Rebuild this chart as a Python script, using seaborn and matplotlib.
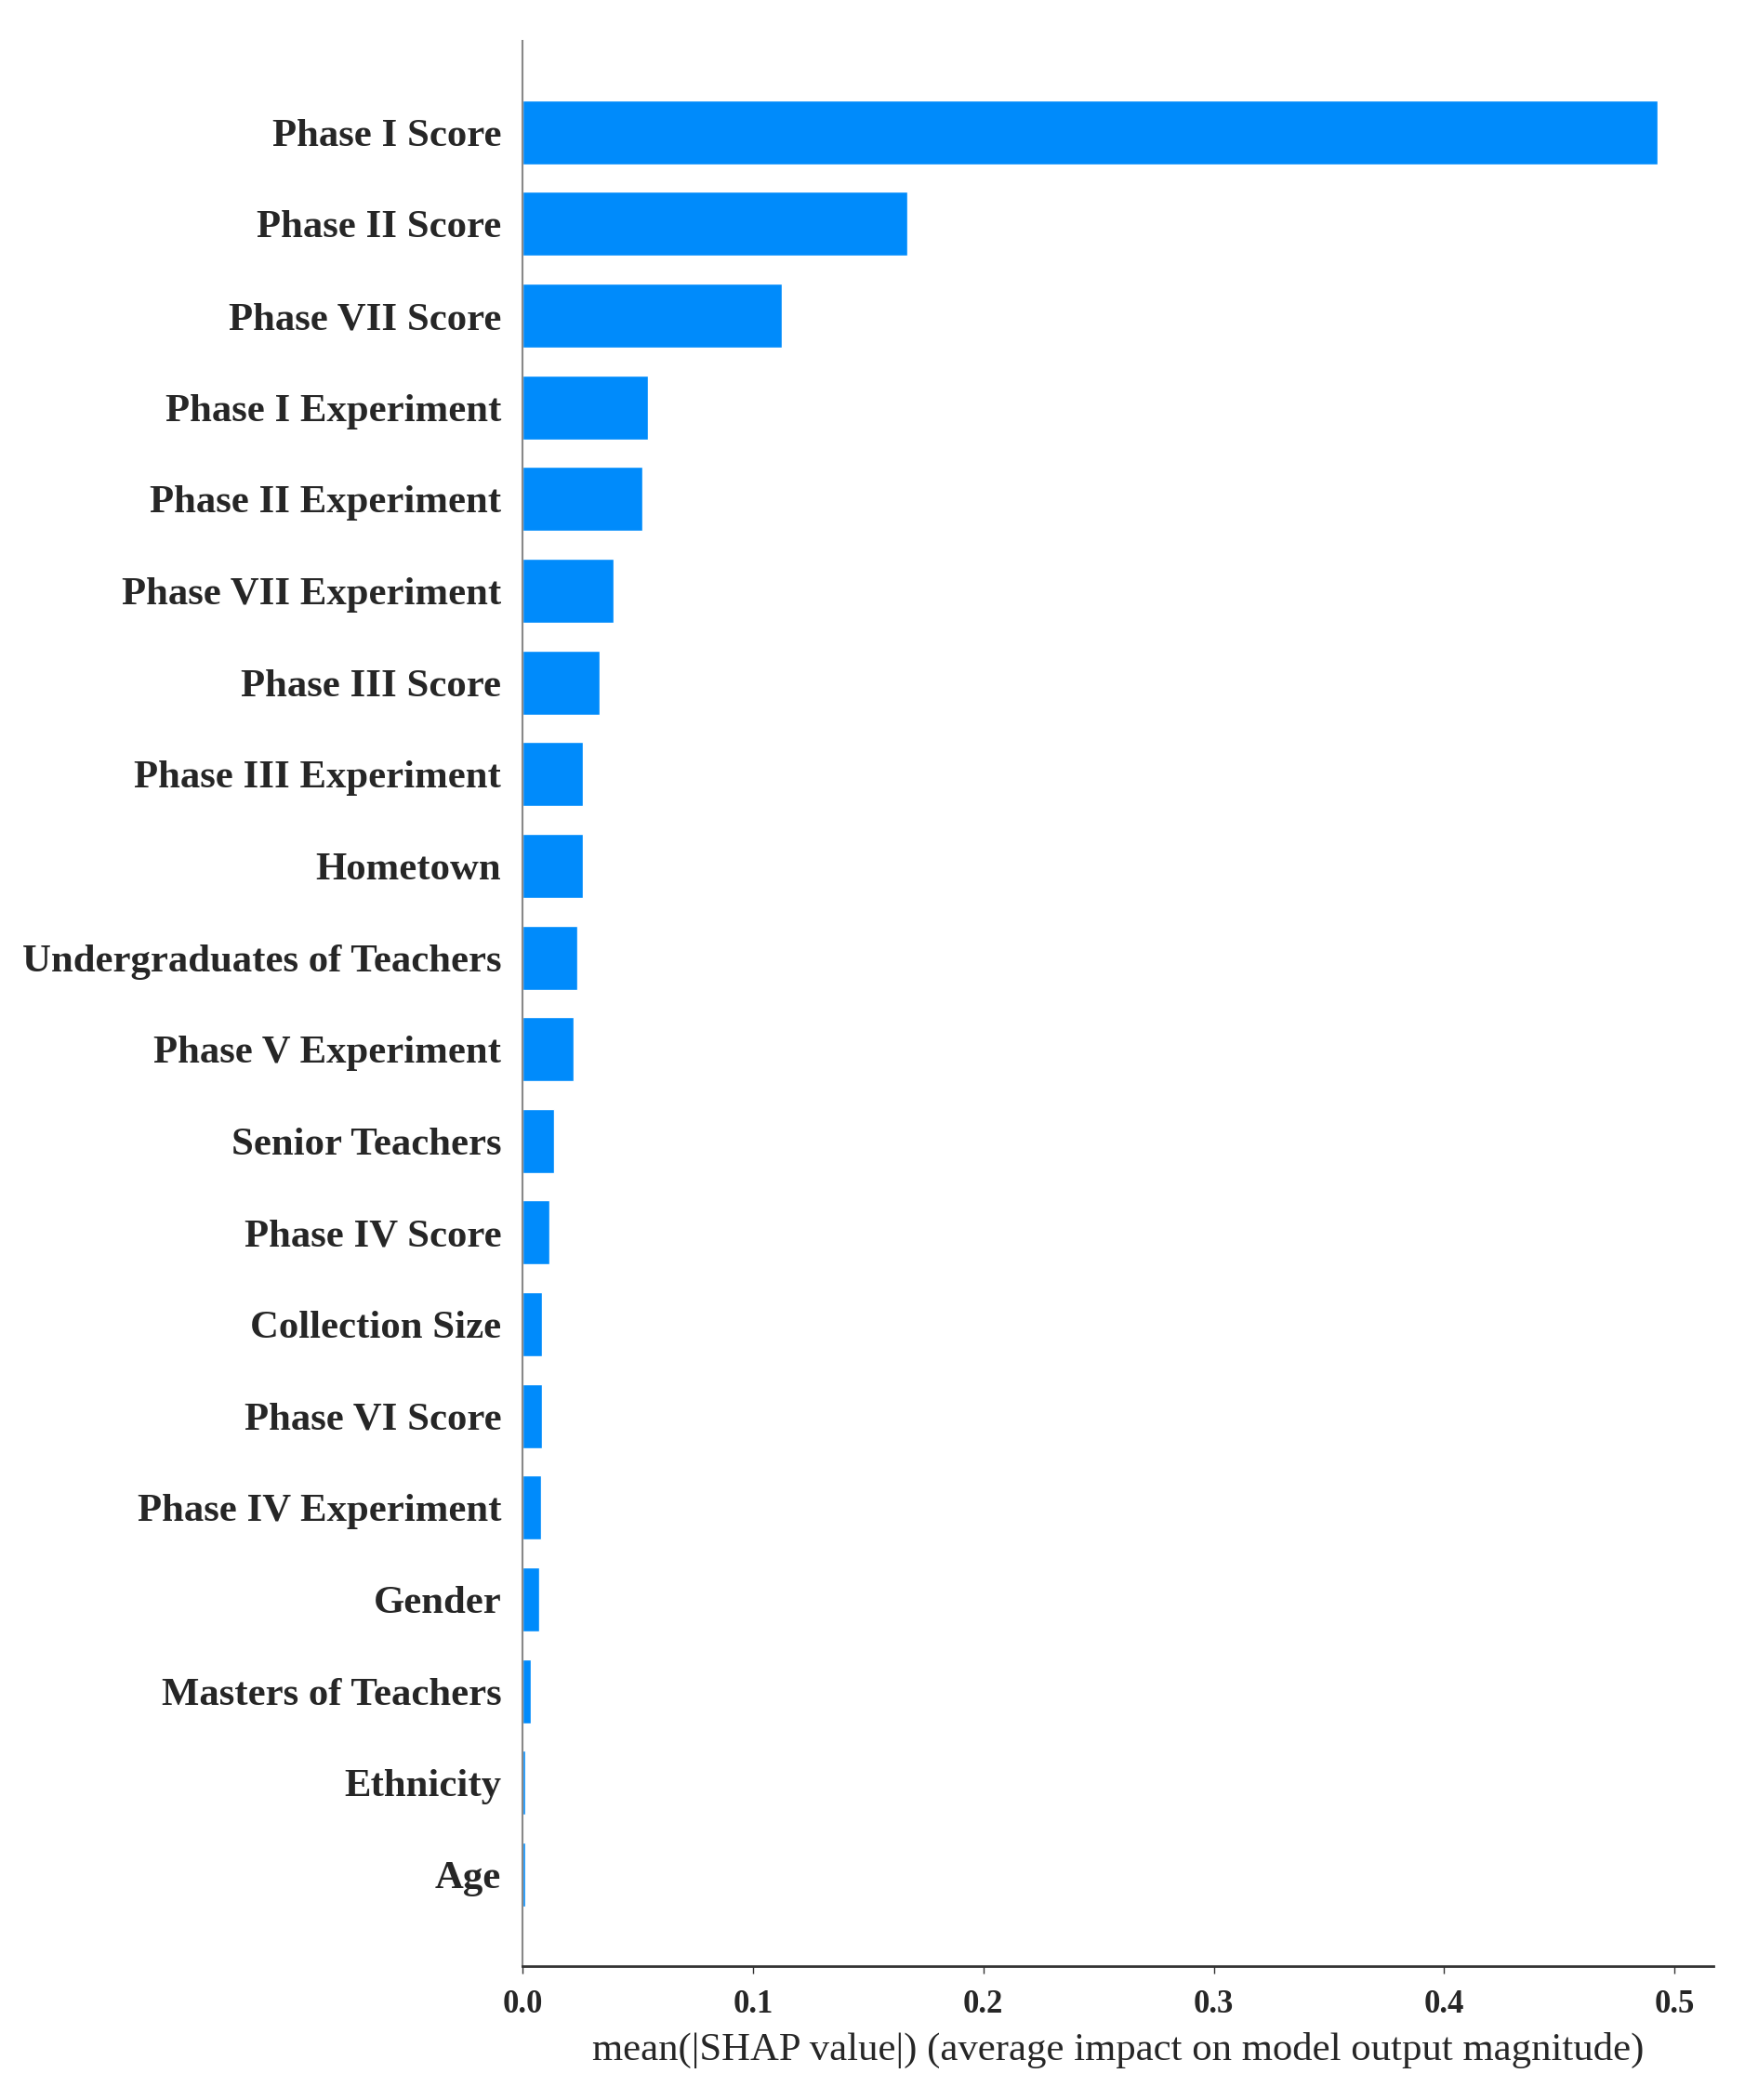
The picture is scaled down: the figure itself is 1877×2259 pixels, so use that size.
import pandas as pd
import matplotlib.pyplot as plt
import seaborn as sns

# feature importance values (mean |SHAP|)
features = [
    "Phase I Score", "Phase II Score", "Phase VII Score", "Phase I Experiment",
    "Phase II Experiment", "Phase VII Experiment", "Phase III Score",
    "Phase III Experiment", "Hometown", "Undergraduates of Teachers",
    "Phase V Experiment", "Senior Teachers", "Phase IV Score", "Collection Size",
    "Phase VI Score", "Phase IV Experiment", "Gender", "Masters of Teachers",
    "Ethnicity", "Age",
]
shap_values = [
    0.4925, 0.167, 0.1125, 0.0545, 0.052, 0.0394, 0.0336, 0.0262, 0.026,
    0.0238, 0.022, 0.0137, 0.0117, 0.0086, 0.0086, 0.0082, 0.0071, 0.0036,
    0.0012, 0.0010,
]
xticks = [0.0, 0.1, 0.2, 0.3, 0.4, 0.5]

df = pd.DataFrame({"feature": features, "value": shap_values})

sns.set_style("white")
plt.rcParams['font.family'] = ['Liberation Serif', 'DejaVu Serif']

fig = plt.figure(figsize=(18.77, 22.59), dpi=100)
ax = fig.add_axes([0.2995, 0.0637, 0.6825, 0.917])

sns.barplot(data=df, x="value", y="feature", order=features, orient="h",
            color="#008bfb", saturation=1, width=0.7, ax=ax)

ax.set_ylim(len(features), -1)
ax.set_xlim(0, 0.517)
ax.set_xticks(xticks)
ax.set_xticklabels([f"{t:.1f}" for t in xticks], fontsize=25, fontweight="bold")
ax.set_yticks(range(len(features)))
ax.set_yticklabels(features, fontsize=30.8, fontweight="bold")
ax.tick_params(axis="y", length=0, pad=16.5)
ax.tick_params(axis="x", length=6, width=1, color="#333333", pad=12,
               direction="out", bottom=True)

ax.set_ylabel("")
ax.set_xlabel("mean(|SHAP value|) (average impact on model output magnitude)",
              fontsize=30.8, labelpad=9)

sns.despine(ax=ax, top=True, right=True)
ax.spines["left"].set_color("#888888")
ax.spines["left"].set_linewidth(1.5)
ax.spines["bottom"].set_color("#333333")
ax.spines["bottom"].set_linewidth(2)

plt.savefig("out.png", dpi=100)
